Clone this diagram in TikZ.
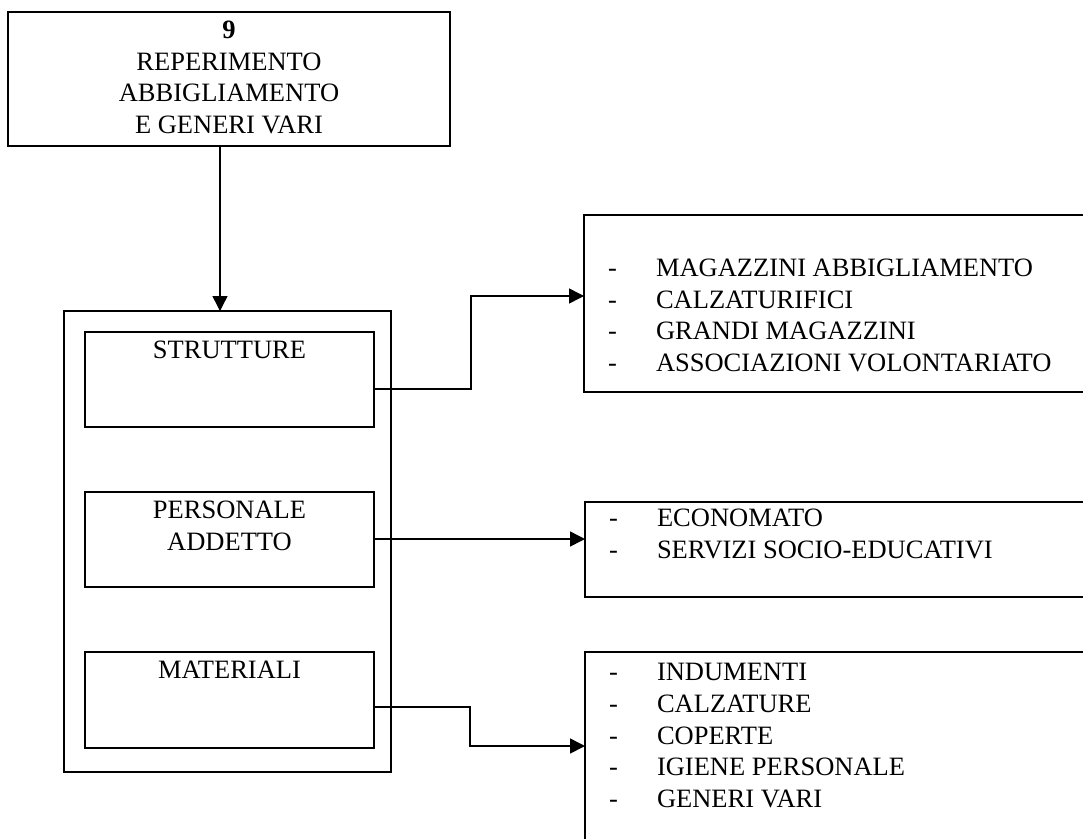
\documentclass[tikz,border=0pt]{standalone}
\usepackage{fontspec}
\setmainfont{Liberation Serif}
\usetikzlibrary{arrows.meta}
% one list entry of the right-hand boxes: dash, then the item after a tab stop
\newcommand\listline[1]{\hspace*{24pt}\makebox[48pt][l]{-}#1}
\begin{document}
\begin{tikzpicture}[x=1pt,y=-1pt,
  frame/.style={draw, line width=1.8pt, inner sep=0pt, outer sep=0pt, anchor=north west},
  conn/.style={line width=1.5pt},
  arr/.style={conn, -{Triangle[length=15pt,width=15pt]}},
  font=\fontsize{26.5pt}{31.7pt}\selectfont]
\clip (0,0) rectangle (1083,838);
\fill[white] (0,0) rectangle (1083,838);

% title box
\node[frame] (top) at (8,12)
  {\parbox[c][134pt][t]{442pt}{\vspace*{4.4pt}\centering\strut\textbf{9}\\REPERIMENTO\\ABBIGLIAMENTO\\E GENERI VARI}};

% container with the three resource boxes
\node[frame, minimum width=327pt, minimum height=461pt] (outer) at (64,311) {};
\node[frame] (in1) at (85,332)
  {\parbox[c][95pt][t]{289pt}{\vspace*{4.4pt}\centering\strut STRUTTURE}};
\node[frame] (in2) at (85,492)
  {\parbox[c][95pt][t]{289pt}{\vspace*{4.4pt}\centering\strut PERSONALE\\ADDETTO}};
\node[frame] (in3) at (85,652)
  {\parbox[c][96pt][t]{289pt}{\vspace*{4.4pt}\centering\strut MATERIALI}};

% detail lists
\node[frame] (r1) at (584,215)
  {\parbox[c][177pt][t]{520pt}{\vspace*{39.4pt}\raggedright\strut
    \listline{MAGAZZINI ABBIGLIAMENTO}\\
    \listline{CALZATURIFICI}\\
    \listline{GRANDI MAGAZZINI}\\
    \listline{ASSOCIAZIONI VOLONTARIATO}}};
\node[frame] (r2) at (585,502)
  {\parbox[c][95pt][t]{520pt}{\vspace*{2.4pt}\raggedright\strut
    \listline{ECONOMATO}\\
    \listline{SERVIZI SOCIO-EDUCATIVI}}};
\node[frame] (r3) at (585,652)
  {\parbox[c][220pt][t]{520pt}{\vspace*{6.4pt}\raggedright\strut
    \listline{INDUMENTI}\\
    \listline{CALZATURE}\\
    \listline{COPERTE}\\
    \listline{IGIENE PERSONALE}\\
    \listline{GENERI VARI}}};

% bend points of the connectors
\coordinate (ax) at (220,0);
\coordinate (k1) at (471,389);
\coordinate (k2) at (471,296);
\coordinate (k3) at (0,539);
\coordinate (k4) at (470,707);
\coordinate (k5) at (470,746);

\draw[arr] (top.south -| ax) -- (outer.north -| ax);
\draw[arr] (in1.east |- k1) -- (k1) -- (k2) -- (r1.west |- k2);
\draw[arr] (in2.east |- k3) -- (r2.west |- k3);
\draw[arr] (in3.east |- k4) -- (k4) -- (k5) -- (r3.west |- k5);
\end{tikzpicture}
\end{document}
